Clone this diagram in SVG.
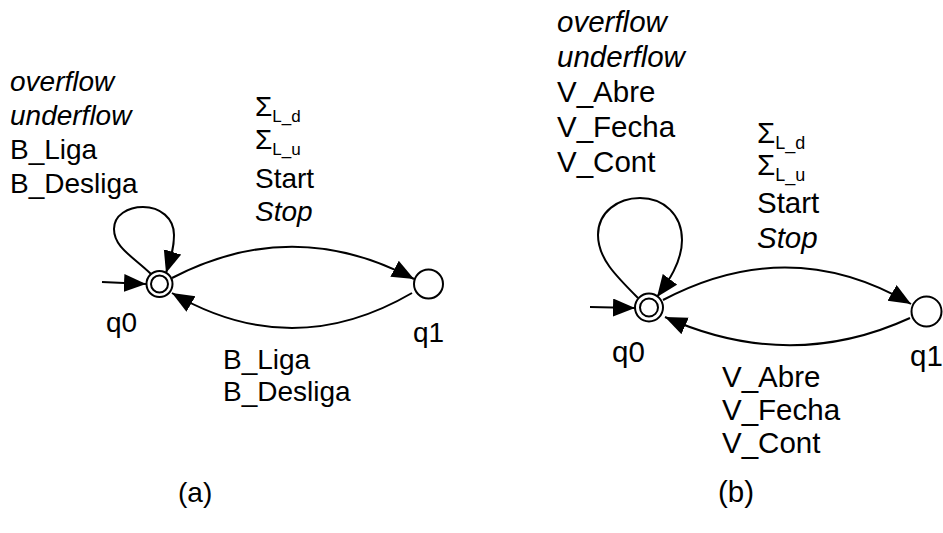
<svg xmlns="http://www.w3.org/2000/svg" width="943" height="533" viewBox="0 0 943 533">
  <style>
    .lbl { font-family: "Liberation Sans", Arial, sans-serif; fill: #000; }
    .a { font-size: 28px; }
    .b { font-size: 29.5px; }
    .it { font-style: italic; }
    .edge { fill: none; stroke: #000; stroke-width: 2; marker-end: url(#arrow); }
    .state { fill: #fff; stroke: #000; stroke-width: 2; }
  </style>
  <defs>
    <marker id="arrow" markerUnits="userSpaceOnUse" markerWidth="23" markerHeight="19" refX="22" refY="9" orient="auto">
      <path d="M0,0 L22,9 L0,18 Z" fill="#000"/>
    </marker>
  </defs>
  <rect width="943" height="533" fill="#fff"/>

  <!-- (a) automaton -->
  <g id="connectors-a">
    <path class="edge" d="M102,282 L146,284"/>
    <path class="edge" d="M151,274 C132,256 114,247 114,229 C114,215 128,207 143,207 C160,207 174,218 174,235 C174,250 170,260 166,273"/>
    <path class="edge" d="M172,278 Q293,215 414,279"/>
    <path class="edge" d="M412,293 Q292,363 172,293"/>
  </g>
  <g id="a-q0">
    <circle class="state" cx="159.5" cy="284" r="13"/>
    <circle class="state" cx="159.5" cy="284" r="8.5"/>
    <text class="lbl a" x="106" y="332">q0</text>
  </g>
  <g id="a-q1">
    <circle class="state" cx="428.5" cy="284" r="14.5"/>
    <text class="lbl a" x="413" y="342">q1</text>
  </g>
  <g id="a-labels">
    <text class="lbl a it" x="10" y="91">overflow</text>
    <text class="lbl a it" x="10" y="125">underflow</text>
    <text class="lbl a" x="10" y="159">B_Liga</text>
    <text class="lbl a" x="10" y="193">B_Desliga</text>
    <text class="lbl a" x="255" y="116">Σ<tspan font-size="17" dy="6">L_d</tspan></text>
    <text class="lbl a" x="255" y="149">Σ<tspan font-size="17" dy="6">L_u</tspan></text>
    <text class="lbl a" x="255" y="188">Start</text>
    <text class="lbl a it" x="255" y="221">Stop</text>
    <text class="lbl a" x="223" y="369">B_Liga</text>
    <text class="lbl a" x="223" y="401">B_Desliga</text>
    <text class="lbl a" x="178" y="502">(a)</text>
  </g>

  <!-- (b) automaton -->
  <g id="connectors-b">
    <path class="edge" d="M590,307 L635,308"/>
    <path class="edge" d="M638,298 C615,275 598,258 598,235 C598,212 618,198 640,198 C664,198 682,215 682,240 C682,262 668,282 657,297"/>
    <path class="edge" d="M663,300 Q790,233 911,304"/>
    <path class="edge" d="M910,318 Q790,373 665,317"/>
  </g>
  <g id="b-q0">
    <circle class="state" cx="649" cy="307.5" r="14"/>
    <circle class="state" cx="649" cy="307.5" r="9"/>
    <text class="lbl b" x="612" y="362">q0</text>
  </g>
  <g id="b-q1">
    <circle class="state" cx="926.5" cy="311.5" r="15"/>
    <text class="lbl b" x="910" y="366">q1</text>
  </g>
  <g id="b-labels">
    <text class="lbl b it" x="557" y="32">overflow</text>
    <text class="lbl b it" x="557" y="67">underflow</text>
    <text class="lbl b" x="557" y="102">V_Abre</text>
    <text class="lbl b" x="557" y="137">V_Fecha</text>
    <text class="lbl b" x="557" y="172">V_Cont</text>
    <text class="lbl b" x="757" y="143">Σ<tspan font-size="18" dy="6">L_d</tspan></text>
    <text class="lbl b" x="757" y="175">Σ<tspan font-size="18" dy="6">L_u</tspan></text>
    <text class="lbl b" x="757" y="213">Start</text>
    <text class="lbl b it" x="757" y="248">Stop</text>
    <text class="lbl b" x="722" y="387">V_Abre</text>
    <text class="lbl b" x="722" y="420">V_Fecha</text>
    <text class="lbl b" x="722" y="453">V_Cont</text>
    <text class="lbl b" x="718" y="502">(b)</text>
  </g>
</svg>
